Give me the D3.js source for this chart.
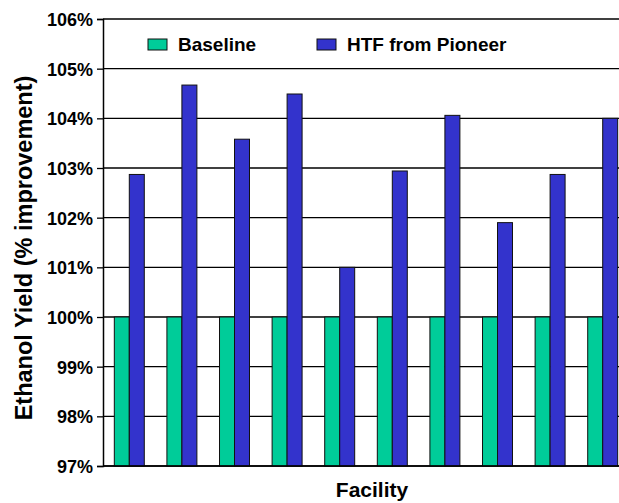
<!DOCTYPE html>
<html lang="en">
<head>
<meta charset="UTF-8">
<title>Ethanol Yield by Facility</title>
<script src="https://d3js.org/d3.v7.min.js"></script>
<style>
    body { margin: 0; background: #fff; }
    text { font-family: "Liberation Sans", Arial, sans-serif; font-weight: bold; fill: #000; }
    .tick text { font-size: 18px; }
    .legend text { font-size: 19px; }
</style>
</head>
<body>
<div id="chart"></div>
<script>
    // data
    const facilities = ["1", "2", "3", "4", "5", "6", "7", "8", "9", "10"];
    const seriesNames = ["Baseline", "HTF from Pioneer"];
    const baseline = [100, 100, 100, 100, 100, 100, 100, 100, 100, 100];
    const htf = [102.87, 104.67, 103.58, 104.49, 101.0, 102.94, 104.06, 101.9, 102.87, 104.0];
    const yTicks = [97, 98, 99, 100, 101, 102, 103, 104, 105, 106];
    const colors = ["#00CC99", "#3333CC"];

    const width = 619, height = 503;
    const margin = { top: 19, left: 103, bottom: 37 };
    const plotW = 526;
    const plotH = height - margin.top - margin.bottom;

    const svg = d3.select("#chart").append("svg")
        .attr("width", width)
        .attr("height", height);

    const g = svg.append("g")
        .attr("transform", "translate(" + margin.left + "," + margin.top + ")");

    const x = d3.scaleBand()
        .domain(facilities)
        .range([0, plotW])
        .paddingInner(0.43)
        .paddingOuter(0.215);

    const xSub = d3.scaleBand()
        .domain(seriesNames)
        .range([0, x.bandwidth()]);

    const y = d3.scaleLinear()
        .domain([97, 106])
        .range([plotH, 0]);

    // gridlines
    g.append("g")
        .selectAll("line")
        .data(yTicks)
        .join("line")
        .attr("x1", 0)
        .attr("x2", plotW)
        .attr("y1", d => y(d))
        .attr("y2", d => y(d))
        .attr("stroke", "#000")
        .attr("stroke-width", 1.3);

    // bars
    const rows = facilities.map((f, i) => ({ f: f, vals: [baseline[i], htf[i]] }));
    const groups = g.selectAll(".grp")
        .data(rows)
        .join("g")
        .attr("transform", d => "translate(" + x(d.f) + ",0)");

    groups.selectAll("rect")
        .data(d => d.vals.map((v, j) => ({ s: seriesNames[j], v: v, c: colors[j] })))
        .join("rect")
        .attr("x", d => xSub(d.s))
        .attr("width", xSub.bandwidth())
        .attr("y", d => y(d.v))
        .attr("height", d => y(97) - y(d.v))
        .attr("fill", d => d.c)
        .attr("stroke", "#111")
        .attr("stroke-width", 1);

    // y axis
    const yAxis = g.append("g")
        .call(d3.axisLeft(y)
            .tickValues(yTicks)
            .tickSize(6)
            .tickPadding(4)
            .tickFormat(d => d + "%"));
    yAxis.select(".domain").attr("stroke", "#000").attr("stroke-width", 1.5);
    yAxis.selectAll(".tick line").attr("stroke", "#000").attr("stroke-width", 1.3);
    yAxis.selectAll(".tick text").attr("fill", "#000").attr("dy", "0.36em");

    // x axis line
    g.append("line")
        .attr("x1", 0).attr("x2", plotW)
        .attr("y1", plotH).attr("y2", plotH)
        .attr("stroke", "#000").attr("stroke-width", 1.5);

    // legend
    const legendX = [148, 317];
    const legend = svg.append("g").attr("class", "legend");
    seriesNames.forEach((name, i) => {
        legend.append("rect")
            .attr("x", legendX[i]).attr("y", 39)
            .attr("width", 19).attr("height", 11)
            .attr("fill", colors[i])
            .attr("stroke", "#111");
        legend.append("text")
            .attr("x", legendX[i] + 30).attr("y", 51)
            .text(name);
    });

    // axis titles
    svg.append("text")
        .attr("x", 372).attr("y", 497)
        .attr("text-anchor", "middle")
        .style("font-size", "21px")
        .text("Facility");

    svg.append("text")
        .attr("transform", "translate(32,248) rotate(-90)")
        .attr("text-anchor", "middle")
        .style("font-size", "23.5px")
        .text("Ethanol Yield (% improvement)");
</script>
</body>
</html>
